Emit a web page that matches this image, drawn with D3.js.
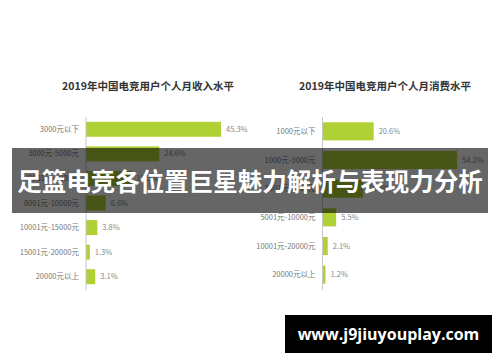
<!DOCTYPE html>
<html>
<head>
<meta charset="utf-8">
<script src="https://cdn.jsdelivr.net/npm/d3@7"></script>
<style>
  body { margin: 0; background: #fff; }
  svg { display: block; font-family: "Noto Sans CJK SC", "Noto Sans", sans-serif; }
</style>
</head>
<body>
<div id="chart"></div>
<script>
// data
var incomeCats = ["3000元以下", "3000元-5000元", "5001元-8000元", "8001元-10000元", "10001元-15000元", "15001元-20000元", "20000元以上"];
var incomeVals = [45.3, 24.6, 15.3, 6.6, 3.8, 1.3, 3.1];
var spendCats = ["1000元以下", "1000元-3000元", "3001元-5000元", "5001元-10000元", "10001元-20000元", "20000元以上"];
var spendVals = [20.6, 54.2, 16.4, 5.5, 2.1, 1.2];
var titles = ["2019年中国电竞用户个人月收入水平", "2019年中国电竞用户个人月消费水平"];
var bannerText = "足篮电竞各位置巨星魅力解析与表现力分析";
var siteText = "www.j9jiuyouplay.com";

var svgWidth = 500;
var svgHeight = 362;
var barColor = "#afd135";

var svg = d3.select("#chart")
    .append("svg")
    .attr("width", svgWidth)
    .attr("height", svgHeight);

// one horizontal bar panel
function drawPanel(cats, vals, title, axisX, xMax, titleX, padding) {
    var x = d3.scaleLinear()
        .domain([0, xMax])
        .range([axisX, axisX + 149]);
    var y = d3.scaleBand()
        .domain(cats)
        .range([117, 289])
        .paddingInner(padding)
        .paddingOuter(padding / 2);

    var g = svg.append("g");

    g.append("text")
        .attr("x", titleX)
        .attr("y", 90)
        .attr("text-anchor", "middle")
        .attr("font-size", "10.5px")
        .attr("font-weight", "bold")
        .attr("fill", "#333")
        .text(title);

    g.selectAll("rect.bar")
        .data(vals)
        .enter()
        .append("rect")
        .attr("class", "bar")
        .attr("x", x(0))
        .attr("y", (d, i) => y(cats[i]))
        .attr("width", d => x(d) - x(0))
        .attr("height", y.bandwidth())
        .attr("fill", barColor);

    // category labels
    g.selectAll("text.cat")
        .data(cats)
        .enter()
        .append("text")
        .attr("class", "cat")
        .attr("x", axisX - 7)
        .attr("y", d => y(d) + y.bandwidth() / 2)
        .attr("dy", "0.35em")
        .attr("text-anchor", "end")
        .attr("font-size", "7.5px")
        .attr("fill", "#777")
        .text(d => d);

    // value labels
    g.selectAll("text.val")
        .data(vals)
        .enter()
        .append("text")
        .attr("class", "val")
        .attr("x", d => x(d) + 5)
        .attr("y", (d, i) => y(cats[i]) + y.bandwidth() / 2)
        .attr("dy", "0.35em")
        .attr("font-size", "7.5px")
        .attr("fill", "#888")
        .text(d => d.toFixed(1) + "%");

    // axis line
    g.append("line")
        .attr("x1", axisX).attr("x2", axisX)
        .attr("y1", 117).attr("y2", 290)
        .attr("stroke", "#c8c8c8")
        .attr("stroke-width", 1);
}

drawPanel(incomeCats, incomeVals, titles[0], 86, 50, 148, 0.39);
drawPanel(spendCats, spendVals, titles[1], 322.5, 60, 385, 0.37);

// dark banner over the middle
svg.append("rect")
    .attr("x", 12)
    .attr("y", 148)
    .attr("width", 476)
    .attr("height", 65)
    .attr("fill", "rgba(0,0,0,0.6)");

svg.append("text")
    .attr("x", 250)
    .attr("y", 182)
    .attr("dy", "0.36em")
    .attr("text-anchor", "middle")
    .attr("font-size", "24.5px")
    .attr("font-weight", "bold")
    .attr("fill", "#fff")
    .text(bannerText);

// site box
svg.append("rect")
    .attr("x", 285)
    .attr("y", 315)
    .attr("width", 207)
    .attr("height", 38)
    .attr("fill", "#000");

svg.append("text")
    .attr("x", 388.5)
    .attr("y", 334)
    .attr("dy", "0.35em")
    .attr("text-anchor", "middle")
    .attr("font-size", "16px")
    .attr("font-weight", "bold")
    .attr("font-family", "'Open Sans', 'DejaVu Sans', sans-serif")
    .attr("fill", "#fff")
    .text(siteText);
</script>
</body>
</html>
